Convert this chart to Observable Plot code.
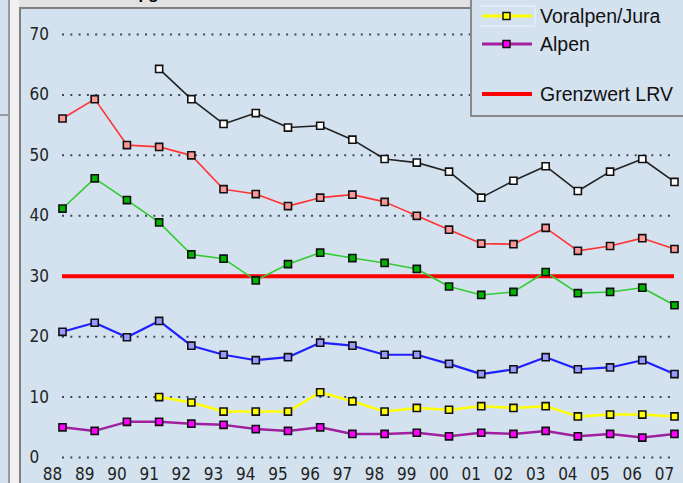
<!DOCTYPE html>
<html>
<head>
<meta charset="utf-8">
<script src="https://cdn.jsdelivr.net/npm/d3@7"></script>
<script src="https://cdn.jsdelivr.net/npm/@observablehq/plot@0.6"></script>
<style>
  body { margin: 0; background: #F0F0F0; }
  #wrap { position: relative; width: 683px; height: 483px; overflow: hidden; background: #F0F0F0; }
  #leftstrip { position: absolute; left: 0; top: 0; width: 8px; height: 483px; background: #D4E2F0; border-right: 2px solid #9A9A9A; }
  #leftline { position: absolute; left: 0; top: 114px; width: 8px; height: 2px; background: #9A9A9A; }
  #topband { position: absolute; left: 19px; top: 0; width: 664px; height: 7px; background: #E2E2E2; overflow: hidden; }
  #title { position: absolute; left: 60px; top: -16px; font: bold 17px "Liberation Sans", Arial, sans-serif; color: #000; white-space: nowrap; }
  #panel { position: absolute; left: 19px; top: 7px; width: 670px; height: 480px; background: #D4E2F0; border-left: 2px solid #808080; border-top: 2px solid #808080; }
  #chart { position: absolute; left: 0; top: 0; }
  #legend { position: absolute; left: 470px; top: -30px; width: 230px; height: 143px; background: #D4E2F0; border: 2px solid #8A8A8A; font: 19.5px "Liberation Sans", Arial, sans-serif; color: #111; }
  .entry { position: absolute; left: 8px; height: 22px; }
  .entry svg { position: absolute; left: 0; top: 0; }
  .entry span { position: absolute; left: 60px; top: 0; line-height: 22px; white-space: nowrap; }
</style>
</head>
<body>
<div id="wrap">
  <div id="leftstrip"></div>
  <div id="leftline"></div>
  <div id="topband"><div id="title">NO2 in µg/m3</div></div>
  <div id="panel"></div>
  <div id="chart"></div>
  <div id="legend"></div>
</div>
<script>
// ---- data ----
const years = [1988,1989,1990,1991,1992,1993,1994,1995,1996,1997,1998,1999,2000,2001,2002,2003,2004,2005,2006,2007];
const yTicks = [0,10,20,30,40,50,60,70];
const limitValue = 30;

const seriesBlack  = [null,null,null,64.3,59.3,55.2,57.0,54.6,54.9,52.6,49.4,48.8,47.3,43.0,45.8,48.2,44.1,47.3,49.4,45.6];
const seriesRed    = [56.1,59.3,51.7,51.4,50.0,44.4,43.6,41.6,43.0,43.5,42.3,40.0,37.7,35.4,35.3,38.0,34.2,35.0,36.3,34.5];
const seriesGreen  = [41.2,46.2,42.6,38.9,33.6,32.9,29.3,32.0,33.9,33.0,32.2,31.2,28.3,26.9,27.4,30.7,27.2,27.4,28.1,25.2];
const seriesBlue   = [20.8,22.3,19.9,22.6,18.5,17.0,16.1,16.6,19.0,18.5,17.0,17.0,15.5,13.8,14.6,16.6,14.6,14.9,16.1,13.8];
const seriesYellow = [null,null,null,10.0,9.1,7.6,7.6,7.6,10.8,9.3,7.6,8.2,7.9,8.5,8.2,8.5,6.8,7.1,7.1,6.8];
const seriesPurple = [5.0,4.4,5.9,5.9,5.6,5.4,4.7,4.4,5.0,3.9,3.9,4.1,3.5,4.1,3.9,4.4,3.5,3.9,3.3,3.9];

const legendLabels = ["Voralpen/Jura", "Alpen", "Grenzwert LRV"];

// ---- styles ----
const styles = [
  {values: seriesPurple, line: "#A020A0", fill: "#FF00FF", w: 2.5},
  {values: seriesYellow, line: "#FFFF00", fill: "#FFFF00", w: 2.5},
  {values: seriesBlue,   line: "#2020FF", fill: "#9999FF", w: 2.2},
  {values: seriesGreen,  line: "#30CC30", fill: "#00B400", w: 1.6},
  {values: seriesRed,    line: "#FF3333", fill: "#FF9999", w: 1.6},
  {values: seriesBlack,  line: "#222222", fill: "#FFFFFF", w: 1.6}
];

const rowsFor = vals => years.map((y, i) => ({year: y, value: vals[i]})).filter(d => d.value != null);

const marks = [
  Plot.ruleY(yTicks, {stroke: "#3A4A5C", strokeWidth: 2, strokeDasharray: "2,6.3"}),
  Plot.ruleY([limitValue], {stroke: "#FF0000", strokeWidth: 4}),
  Plot.axisX({ticks: years, tickFormat: d => String(d % 100).padStart(2, "0"), tickSize: 0, tickPadding: 10, dx: -10, label: null, fill: "#222"}),
  Plot.axisY({ticks: yTicks, tickSize: 0, tickPadding: 33, textAnchor: "start", label: null, fill: "#222"})
];
for (const s of styles) {
  const rows = rowsFor(s.values);
  marks.push(Plot.line(rows, {x: "year", y: "value", stroke: s.line, strokeWidth: s.w}));
}
for (const s of styles) {
  const rows = rowsFor(s.values);
  marks.push(Plot.dot(rows, {x: "year", y: "value", symbol: "square", r: 4, fill: s.fill, stroke: "#111", strokeWidth: 1.6}));
}

const chart = Plot.plot({
  width: 683,
  height: 483,
  marginLeft: 62,
  marginRight: 9,
  marginTop: 34,
  marginBottom: 26,
  x: {domain: [1988, 2007]},
  y: {domain: [0, 70]},
  style: {background: "transparent", fontFamily: "'Liberation Sans Narrow', 'DejaVu Sans Condensed', Arial, sans-serif", fontSize: "17px", overflow: "visible"},
  marks
});
document.getElementById("chart").appendChild(chart);

// ---- legend ----
const legend = document.getElementById("legend");
const legendSpecs = [
  {label: legendLabels[0], line: "#FFFF00", fill: "#FFFF00", w: 3, marker: true, top: 33, hl: true},
  {label: legendLabels[1], line: "#A020A0", fill: "#FF00FF", w: 3, marker: true, top: 61},
  {label: legendLabels[2], line: "#FF0000", fill: null, w: 4, marker: false, top: 111}
];
for (const e of legendSpecs) {
  const div = document.createElement("div");
  div.className = "entry";
  div.style.top = e.top + "px";
  div.style.width = "220px";
  let svg = `<svg width="60" height="22">`;
  if (e.hl) svg += `<rect x="-2" y="1" width="57" height="20" fill="none" stroke="#E6EEF8" stroke-width="1.5"/>`;
  svg += `<line x1="2" x2="52" y1="11" y2="11" stroke="${e.line}" stroke-width="${e.w}"/>`;
  if (e.marker) svg += `<rect x="23" y="7.5" width="7" height="7" fill="${e.fill}" stroke="#111" stroke-width="1.5"/>`;
  svg += `</svg>`;
  div.innerHTML = svg + `<span>${e.label}</span>`;
  legend.appendChild(div);
}
</script>
</body>
</html>
